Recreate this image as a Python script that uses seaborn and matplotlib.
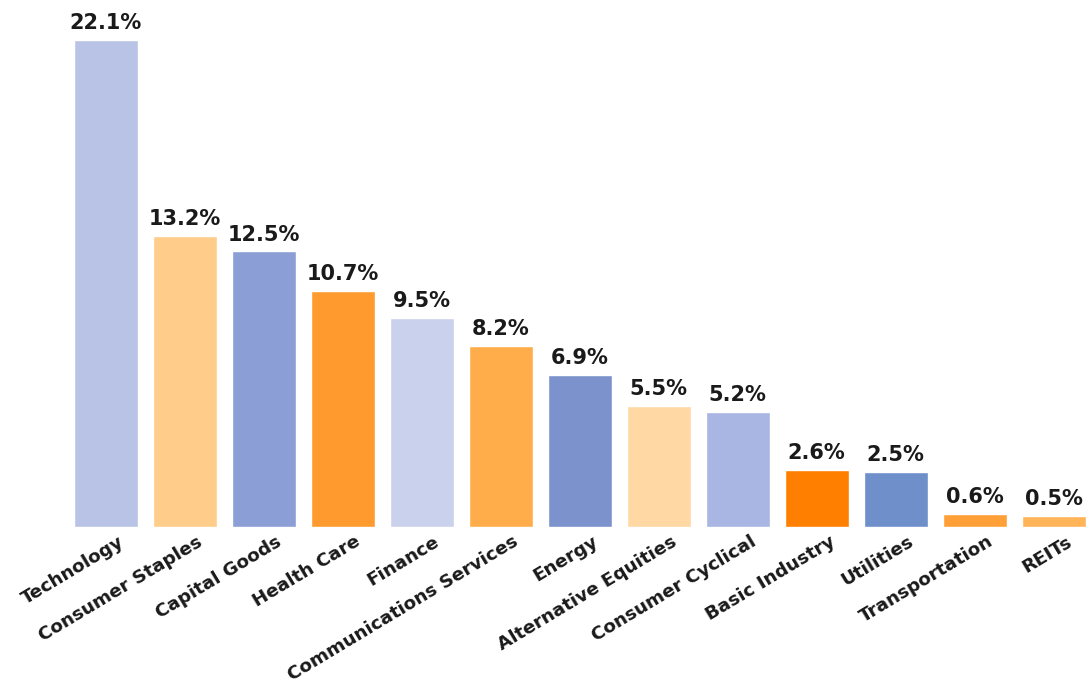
import matplotlib
matplotlib.use("Agg")
import matplotlib.pyplot as plt
import matplotlib.transforms as mtransforms
import seaborn as sns
import pandas as pd

categories = ["Technology", "Consumer Staples", "Capital Goods", "Health Care", "Finance",
              "Communications Services", "Energy", "Alternative Equities", "Consumer Cyclical",
              "Basic Industry", "Utilities", "Transportation", "REITs"]
values = [22.1, 13.2, 12.5, 10.7, 9.5, 8.2, 6.9, 5.5, 5.2, 2.6, 2.5, 0.6, 0.5]
colors = ["#b9c3e6", "#ffcc8a", "#8b9ed6", "#ff9a2e", "#c9d1ec", "#ffac4a", "#7b92cc",
          "#ffd8a4", "#a9b5e2", "#ff8000", "#6e8fca", "#ff9f38", "#ffb458"]

sns.set_theme(style="white")
plt.rcParams["font.family"] = ["DejaVu Sans"]

df = pd.DataFrame({"category": categories, "value": values})

fig = plt.figure(figsize=(10.91, 6.93), dpi=100)
ax = fig.add_axes([0.0663, 0.2395, 0.93, 0.7475])
sns.barplot(data=df, x="category", y="value", hue="category", palette=colors,
            order=categories, hue_order=categories, width=0.81, legend=False,
            saturation=1, ax=ax)

ax.set_xlim(-0.42, len(categories) - 0.58)
ax.set_ylim(0, 23.5)
for s in ax.spines.values():
    s.set_visible(False)
ax.set_yticks([])
ax.set_xlabel("")
ax.set_ylabel("")
ax.tick_params(axis="x", length=0, pad=4)

for i, v in enumerate(values):
    ax.annotate(f"{v}%", (i, v), xytext=(0, 5), textcoords="offset points",
                ha="center", va="bottom", fontsize=15, fontweight="bold", color="#1a1a1a")

offset = mtransforms.ScaledTranslation(0.12, 0, fig.dpi_scale_trans)
ax.set_xticks(range(len(categories)))
ax.set_xticklabels(categories, rotation=31, ha="right", va="top",
                   rotation_mode="anchor", fontsize=13.2, fontweight="bold", color="#1a1a1a")
for lbl in ax.get_xticklabels():
    lbl.set_transform(lbl.get_transform() + offset)

fig.savefig("out.png", dpi=100, facecolor="white")
